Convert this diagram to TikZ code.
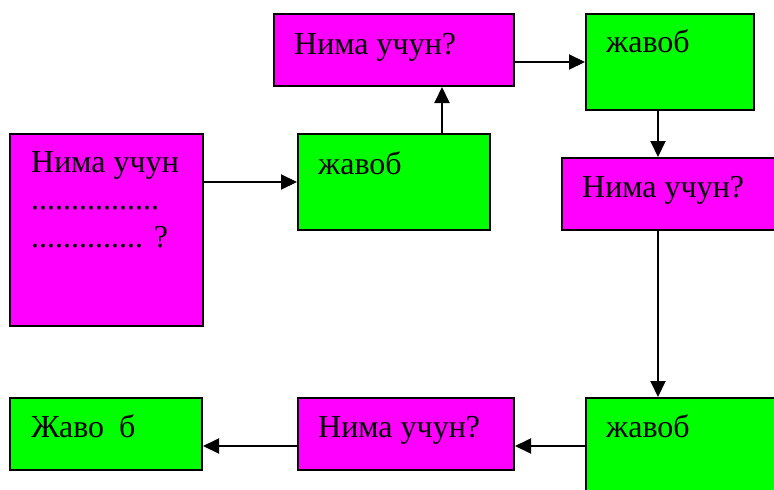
\documentclass[tikz,border=0pt]{standalone}
\usepackage{fontspec}
\setmainfont{Liberation Serif}
\usetikzlibrary{arrows.meta}

\definecolor{qmag}{RGB}{255,0,255}
\definecolor{agreen}{RGB}{0,255,0}

\tikzset{
  box/.style={draw, line width=2pt, inner sep=0pt},
  qbox/.style={box, fill=qmag},
  abox/.style={box, fill=agreen},
  txt/.style={anchor=base west, inner sep=0pt, align=left,
    font=\fontsize{32}{37.5}\selectfont}
}

\begin{document}
\begin{tikzpicture}[x=1pt,y=-1pt]
  \clip (0,0) rectangle (774,490);
  \node[qbox, minimum width=193, minimum height=192] (A) at (106.5,230) {};
  \node[abox, minimum width=192, minimum height=96]  (B) at (394,182)   {};
  \node[qbox, minimum width=240, minimum height=72]  (C) at (394,50)    {};
  \node[abox, minimum width=168, minimum height=96]  (D) at (670,62)    {};
  \node[qbox, minimum width=228, minimum height=72]  (E) at (676,194)   {};
  \node[abox, minimum width=204, minimum height=112] (F) at (688,454)   {};
  \node[qbox, minimum width=216, minimum height=72]  (G) at (406,434)   {};
  \node[abox, minimum width=192, minimum height=72]  (H) at (106,434)   {};

  % base of a multi-line node is the last line
  \node[txt] (tA) at ([shift={(22,114)}]A.north west) {Нима учун\\................\\.............. ?};
  \node[txt] (tB) at ([shift={(21,41)}]B.north west) {жавоб};
  \node[txt] (tC) at ([shift={(21,41)}]C.north west) {Нима учун?};
  \node[txt] (tD) at ([shift={(21,39)}]D.north west) {жавоб};
  \node[txt] (tE) at ([shift={(21,40)}]E.north west) {Нима учун?};
  \node[txt] (tF) at ([shift={(21,40)}]F.north west) {жавоб};
  \node[txt] (tG) at ([shift={(21,40)}]G.north west) {Нима учун?};
  \node[txt] (tH) at ([shift={(22,40)}]H.north west) {Жаво\hspace{15pt}б};

  \coordinate (up)   at (442,0);
  \coordinate (down) at (658,0);
  \coordinate (back) at (0,446);

  \path[->, >={Triangle[length=16pt,width=15pt]}, line width=2pt]
    (A.east |- B.west) edge (B.west)
    (B.north -| up)    edge (C.south -| up)
    (C.east |- D.west) edge (D.west)
    (D.south -| down)  edge (E.north -| down)
    (E.south -| down)  edge (F.north -| down)
    (F.west |- back)   edge (G.east |- back)
    (G.west |- back)   edge (H.east |- back);
\end{tikzpicture}
\end{document}
